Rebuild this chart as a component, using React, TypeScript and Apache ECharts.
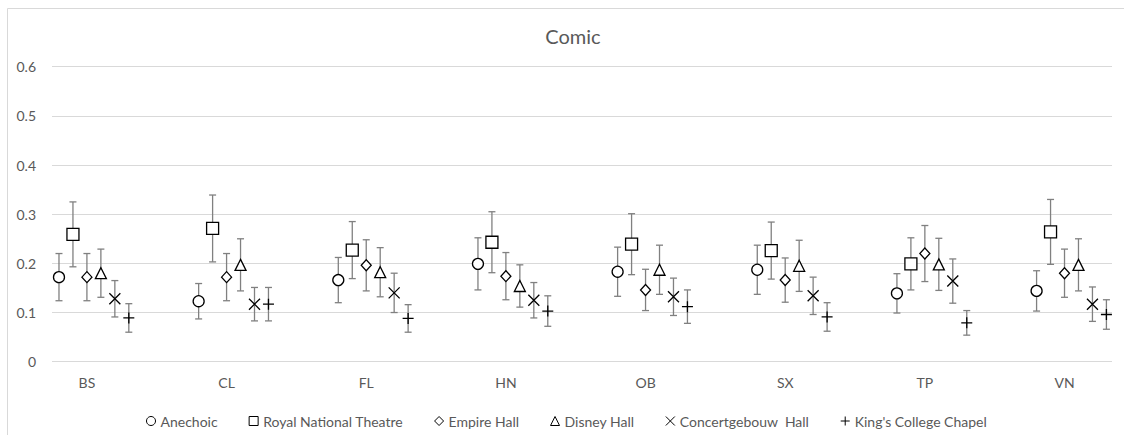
import React, { useEffect, useRef } from "react";
import * as echarts from "echarts";

const categories = ["BS", "CL", "FL", "HN", "OB", "SX", "TP", "VN"];
const yTickLabels = ["0", "0.1", "0.2", "0.3", "0.4", "0.5", "0.6"];

const seriesNames = [
  "Anechoic",
  "Royal National Theatre",
  "Empire Hall",
  "Disney Hall",
  "Concertgebouw  Hall",
  "King's College Chapel",
];

const anechoic = [0.172, 0.123, 0.166, 0.199, 0.183, 0.187, 0.139, 0.144];
const anechoicErr = [0.048, 0.036, 0.046, 0.053, 0.05, 0.05, 0.04, 0.041];

const royal = [0.259, 0.271, 0.227, 0.243, 0.239, 0.226, 0.199, 0.264];
const royalErr = [0.066, 0.068, 0.058, 0.062, 0.062, 0.058, 0.053, 0.066];

const empire = [0.172, 0.172, 0.196, 0.174, 0.146, 0.166, 0.22, 0.18];
const empireErr = [0.048, 0.048, 0.052, 0.048, 0.042, 0.045, 0.057, 0.049];

const disney = [0.18, 0.197, 0.182, 0.154, 0.187, 0.195, 0.198, 0.197];
const disneyErr = [0.049, 0.053, 0.05, 0.043, 0.05, 0.052, 0.053, 0.053];

const concert = [0.128, 0.117, 0.14, 0.125, 0.132, 0.134, 0.164, 0.117];
const concertErr = [0.037, 0.034, 0.04, 0.036, 0.038, 0.038, 0.045, 0.035];

const kings = [0.089, 0.117, 0.088, 0.103, 0.112, 0.091, 0.079, 0.096];
const kingsErr = [0.029, 0.034, 0.028, 0.031, 0.034, 0.029, 0.025, 0.03];

const values = [anechoic, royal, empire, disney, concert, kings];
const errors = [anechoicErr, royalErr, empireErr, disneyErr, concertErr, kingsErr];

// style / layout config
const xOffsets = [-0.2, -0.1, 0, 0.1, 0.2, 0.3];
const symbols: any[] = [
  "circle",
  "rect",
  "diamond",
  "triangle",
  "path://M0,0L10,10M0,10L10,0",
  "path://M5,0L5,10M0,5L10,5",
];
const symbolSizes: any[] = [11, 12, [10, 11], [11, 11], 11, 11];
const fills = ["#ffffff", "#ffffff", "#ffffff", "#ffffff", "transparent", "transparent"];

const FONT = "Lato, 'Open Sans', sans-serif";
const TEXT = "#595959";

export default function App() {
  const ref = useRef<HTMLDivElement>(null);

  useEffect(() => {
    document.body.style.margin = "0";
    if (!ref.current) return;
    const chart = echarts.init(ref.current, undefined, { renderer: "svg" });

    const errSeries = values.map((vals, s) => ({
      type: "custom",
      name: "err" + s,
      silent: true,
      z: 2,
      encode: { x: 0, y: [1, 2] },
      data: vals.map((v, i) => [i + 1 + xOffsets[s], v - errors[s][i], v + errors[s][i]]),
      renderItem: (params: any, api: any) => {
        const x = api.value(0);
        const lo = api.value(1);
        const hi = api.value(2);
        const p1 = api.coord([x, hi]);
        const p2 = api.coord([x, lo]);
        const cap = 3.5;
        const style = { stroke: "#808080", lineWidth: 1.3, fill: "none" };
        return {
          type: "group",
          children: [
            { type: "line", shape: { x1: p1[0], y1: p1[1], x2: p2[0], y2: p2[1] }, style },
            { type: "line", shape: { x1: p1[0] - cap, y1: p1[1], x2: p1[0] + cap, y2: p1[1] }, style },
            { type: "line", shape: { x1: p2[0] - cap, y1: p2[1], x2: p2[0] + cap, y2: p2[1] }, style },
          ],
        };
      },
    }));

    const markerSeries = values.map((vals, s) => ({
      type: "scatter",
      name: seriesNames[s],
      z: 5,
      symbol: symbols[s],
      symbolSize: symbolSizes[s],
      itemStyle: { color: fills[s], borderColor: "#000000", borderWidth: 1.3, opacity: 1 },
      data: vals.map((v, i) => [i + 1 + xOffsets[s], v]),
    }));

    chart.setOption({
      animation: false,
      title: {
        text: "Comic",
        left: 568,
        textAlign: "center",
        top: 21,
        textStyle: { fontFamily: FONT, fontSize: 20, fontWeight: "normal", color: TEXT },
      },
      graphic: [
        {
          type: "rect",
          shape: { x: 7.5, y: 8.5, width: 1130, height: 440 },
          style: { fill: "none", stroke: "#d9d9d9", lineWidth: 1 },
          silent: true,
        },
      ],
      legend: {
        data: seriesNames,
        left: 141,
        top: 409,
        itemWidth: 9,
        itemHeight: 9,
        itemGap: 31,
        itemStyle: { borderWidth: 1 },
        textStyle: { fontFamily: FONT, fontSize: 14, color: TEXT },
      },
      grid: { left: 52, right: 12, top: 66.7, bottom: 73.3 },
      xAxis: {
        type: "value",
        min: 0.75,
        max: 8.34,
        axisLine: { show: false },
        axisTick: { show: false },
        splitLine: { show: false },
        axisLabel: {
          customValues: categories.map((_, i) => i + 1),
          formatter: (v: number) => categories[Math.round(v) - 1] ?? "",
          margin: 14,
          fontFamily: FONT,
          fontSize: 14,
          color: TEXT,
        },
      },
      yAxis: {
        type: "value",
        min: 0,
        max: 0.6,
        interval: 0.1,
        axisLine: { show: false },
        axisTick: { show: false },
        splitLine: { lineStyle: { color: "#d9d9d9", width: 1 } },
        axisLabel: {
          formatter: (v: number) => yTickLabels[Math.round(v * 10)] ?? "",
          margin: 16,
          fontFamily: FONT,
          fontSize: 14,
          color: TEXT,
        },
      },
      series: [...errSeries, ...markerSeries],
    });

    return () => chart.dispose();
  }, []);

  return <div ref={ref} style={{ width: 1124, height: 435 }} />;
}
